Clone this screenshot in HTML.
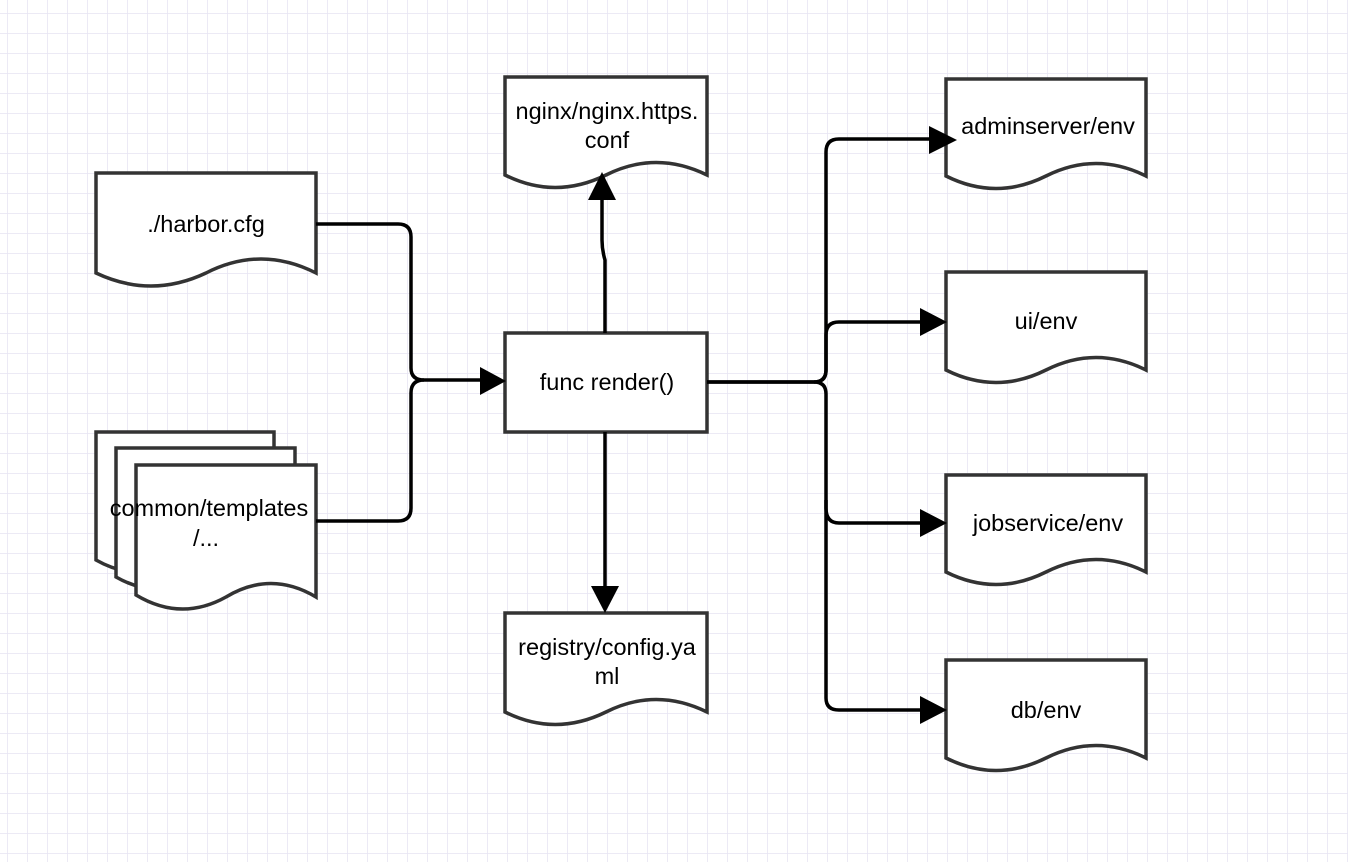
<!DOCTYPE html>
<html><head><meta charset="utf-8"><style>
html,body{margin:0;padding:0;background:#fff;}
svg{display:block;}
text{font-family:"Liberation Sans",Arial,sans-serif;font-size:23.5px;fill:#000;}
</style></head><body>
<svg width="1348" height="862" viewBox="0 0 1348 862" xmlns="http://www.w3.org/2000/svg">
<defs>
<pattern id="g" x="7" y="13" width="20" height="20" patternUnits="userSpaceOnUse">
<path d="M0 0H20M0 0V20" stroke="#e6e4f2" stroke-width="1.5" fill="none"/>
</pattern>
</defs>
<rect width="1348" height="862" fill="#fff"/>
<rect width="1348" height="862" fill="url(#g)"/>
<g fill="#fff" stroke="#333" stroke-width="3.5">
<path d="M96 173H316V273Q261 245 206 273Q151 299 96 273Z"/>
<path d="M96 432H274V560Q230 535 185 560Q140 585 96 560Z"/>
<path d="M116 448H295V577Q250 552 205 577Q160 602 116 577Z"/>
<path d="M136 465H316V597Q271 570 226 597Q181 622 136 595Z"/>
<path d="M505 77H707V175Q656 150 606 175Q555 200 505 175Z"/>
<rect x="505" y="333" width="202" height="99"/>
<path d="M505 613H707V712Q656 687 606 712Q555 737 505 712Z"/>
<path d="M946 79H1146V176Q1096 151 1046 176Q996 201 946 176Z"/>
<path d="M946 272H1146V370Q1096 345 1046 370Q996 395 946 370Z"/>
<path d="M946 475H1146V572Q1096 547 1046 572Q996 597 946 572Z"/>
<path d="M946 660H1146V758Q1096 733 1046 758Q996 783 946 758Z"/>
</g>
<g fill="none" stroke="#000" stroke-width="3.5" stroke-linejoin="round">
<path d="M316 224H398Q411 224 411 237V368Q411 380 424 380H484"/>
<path d="M316 521H398Q411 521 411 508V393Q411 380 424 380"/>
<path d="M605 333V260Q602 250 602 240V196"/>
<path d="M605 432V590"/>
<path d="M707 382H814Q826 382 826 370V152Q826 139 839 139H930"/>
<path d="M814 382Q826 382 826 370V335Q826 322 839 322H924"/>
<path d="M707 382H814Q826 382 826 394V508Q826 523 839 523H924"/>
<path d="M826 500V698Q826 710 839 710H924"/>
</g>
<g fill="#000">
<polygon points="480,367 480,395 506,381"/>
<polygon points="588,200 616,200 602,172"/>
<polygon points="591,586 619,586 605,613"/>
<polygon points="929,126 929,154 957,140"/>
<polygon points="920,308 920,336 947,322"/>
<polygon points="920,509 920,537 947,523"/>
<polygon points="920,696 920,724 947,710"/>
</g>
<g text-anchor="middle">
<text x="206" y="232">./harbor.cfg</text>
<text x="209" y="516">common/templates</text>
<text x="206" y="546">/...</text>
<text x="607" y="119">nginx/nginx.https.</text>
<text x="607" y="148">conf</text>
<text x="607" y="390">func render()</text>
<text x="607" y="655">registry/config.ya</text>
<text x="607" y="684">ml</text>
<text x="1048" y="134">adminserver/env</text>
<text x="1046" y="329">ui/env</text>
<text x="1048" y="531">jobservice/env</text>
<text x="1046" y="718">db/env</text>
</g>
</svg>
</body></html>
